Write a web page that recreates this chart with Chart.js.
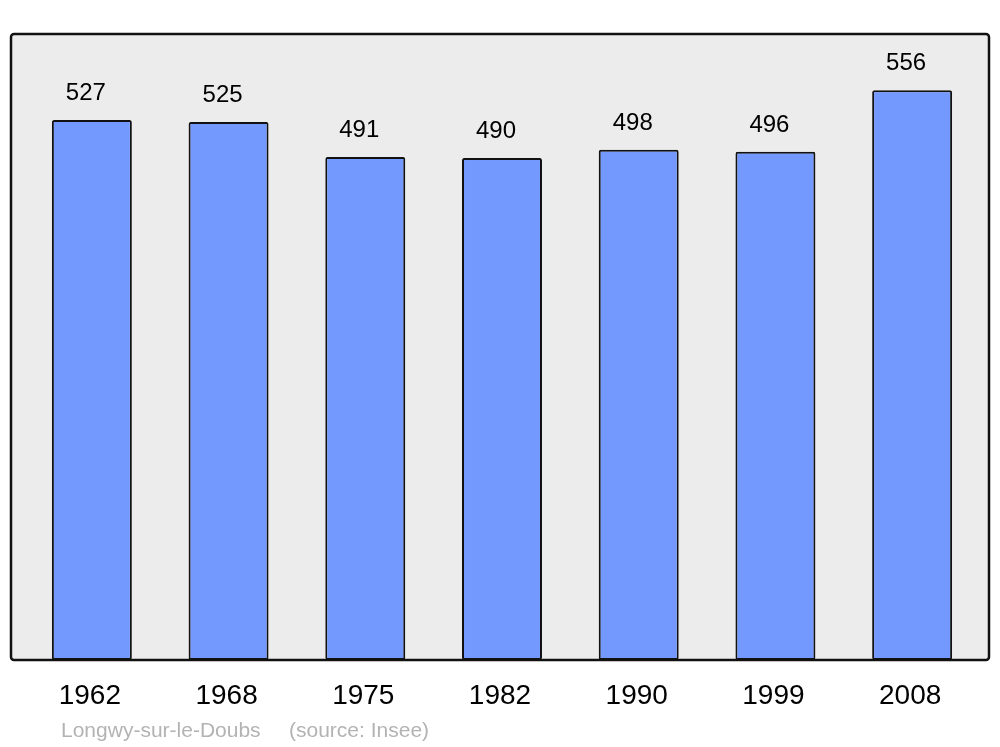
<!DOCTYPE html>
<html lang="fr">
<head>
    <meta charset="UTF-8">
    <title>Longwy-sur-le-Doubs population</title>
    <script src="https://cdn.jsdelivr.net/npm/chart.js"></script>
    <style>
        body {
            margin: 0;
            padding: 0;
            background: white;
        }
        .chart-container {
            width: 1000px;
            height: 747px;
        }
    </style>
</head>
<body>
    <div class="chart-container">
        <canvas id="popChart"></canvas>
    </div>

    <script>
        const years = ['1962', '1968', '1975', '1982', '1990', '1999', '2008'];
        const population = [527, 525, 491, 490, 498, 496, 556];
        const yMax = 611;
        const caption = 'Longwy-sur-le-Doubs';
        const source = '(source: Insee)';

        const font = "'Liberation Sans', Arial, sans-serif";

        // grey framed panel behind the bars, value labels and the year labels underneath
        const decorations = {
            id: 'decorations',
            beforeDraw(chart) {
                const { ctx, chartArea: a } = chart;
                const left = a.left - 12.5, right = a.right + 8.5;
                ctx.save();
                ctx.beginPath();
                ctx.roundRect(left, a.top, right - left, a.bottom - a.top, 3);
                ctx.fillStyle = '#ececec';
                ctx.fill();
                ctx.lineWidth = 2.5;
                ctx.strokeStyle = '#111';
                ctx.stroke();
                ctx.restore();
            },
            afterDraw(chart) {
                const { ctx, chartArea: a } = chart;
                const x = chart.scales.x, y = chart.scales.y;
                ctx.save();
                ctx.fillStyle = '#000';
                ctx.textAlign = 'center';
                ctx.textBaseline = 'alphabetic';
                ctx.font = '24px ' + font;
                population.forEach((v, i) => {
                    ctx.fillText(String(v), x.getPixelForValue(i) - 6, y.getPixelForValue(v) - 20);
                });
                ctx.font = '28px ' + font;
                years.forEach((yr, i) => {
                    ctx.fillText(yr, x.getPixelForValue(i) - 2, a.bottom + 44);
                });
                ctx.textAlign = 'left';
                ctx.fillStyle = '#b3b3b3';
                ctx.font = '21px ' + font;
                ctx.fillText(caption, 61, a.bottom + 77);
                ctx.fillText(source, 289, a.bottom + 77);
                ctx.restore();
            }
        };

        new Chart(document.getElementById('popChart'), {
            type: 'bar',
            data: {
                labels: years,
                datasets: [{
                    data: population,
                    backgroundColor: '#7399ff',
                    borderColor: '#111',
                    borderWidth: 2,
                    borderRadius: 2,
                    borderSkipped: false,
                    categoryPercentage: 1,
                    barPercentage: 0.585
                }]
            },
            options: {
                responsive: true,
                maintainAspectRatio: false,
                animation: false,
                layout: {
                    padding: { top: 34, bottom: 87, left: 23.5, right: 19.5 }
                },
                plugins: {
                    legend: { display: false },
                    tooltip: { enabled: false }
                },
                scales: {
                    x: { display: false },
                    y: { display: false, min: 0, max: yMax }
                }
            },
            plugins: [decorations]
        });
    </script>
</body>
</html>
